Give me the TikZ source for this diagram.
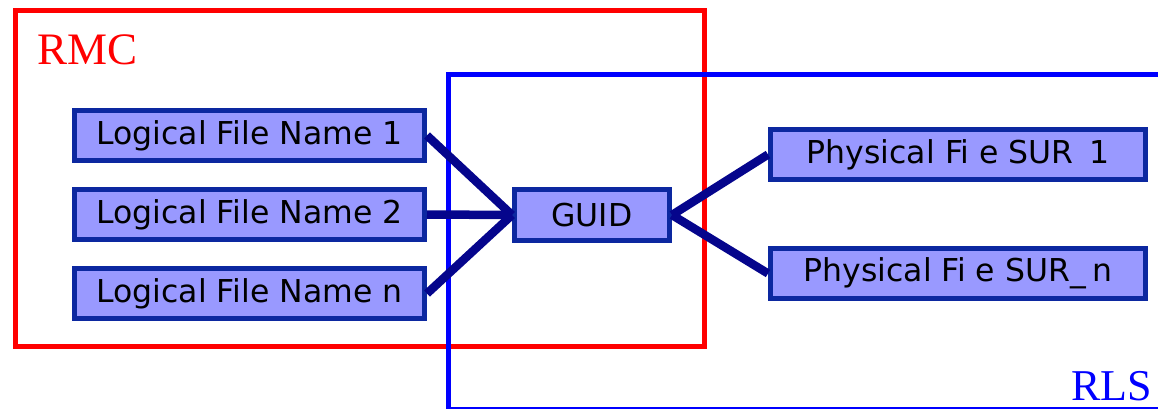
\documentclass[tikz,border=0pt]{standalone}
\usepackage{fontspec}
\setmainfont{Liberation Serif}
\newfontfamily\boxfont{DejaVu Sans}
\definecolor{boxfill}{RGB}{153,153,255}
\definecolor{boxline}{RGB}{12,40,160}
\definecolor{conn}{RGB}{5,5,140}
\begin{document}
\begin{tikzpicture}[x=1pt,y=-1pt,
  fbox/.style={draw=boxline, fill=boxfill, line width=5pt, rectangle,
    inner sep=0pt, minimum height=50pt, font=\boxfont\fontsize{31.5}{36}\selectfont, text=black},
  link/.style={draw=conn, line width=8.5pt}]
\useasboundingbox (0,0) rectangle (1158,409);
\clip (0,0) rectangle (1158,409);
% group frames
\draw[red, line width=5pt] (15.5,10.5) rectangle (704,346.5);
\draw[blue, line width=5pt] (448,74.5) rectangle (1200,409);
\node[anchor=base west, inner sep=0pt, text=red, font=\fontsize{45}{50}\selectfont] (rmc) at (37,65) {RMC};
\node[anchor=base east, inner sep=0pt, text=blue, font=\fontsize{44}{50}\selectfont] (rls) at (1152,400) {RLS};
% nodes
\node[fbox, minimum width=350pt] (l1) at (249.5,135.5) {Logical File Name 1};
\node[fbox, minimum width=350pt] (l2) at (249.5,214.5) {Logical File Name 2};
\node[fbox, minimum width=350pt] (ln) at (249.5,293.5) {Logical File Name n};
\node[fbox, minimum width=155pt, minimum height=51pt] (guid) at (592,215) {GUID};
\node[fbox, minimum width=375pt] (p1) at (958,154.5) {Physical Fi\hspace{0.3em}e SUR\hspace{0.5em}1};
\node[fbox, minimum width=375pt] (pn) at (958,273.5) {Physical Fi\hspace{0.3em}e SUR\_\hspace{0.2em}n};
% connectors
\draw[link] (l1.east) -- (guid.west);
\draw[link] (l2.east) -- (guid.west);
\draw[link] (ln.east) -- (guid.west);
\draw[link] (guid.east) -- (p1.west);
\draw[link] (guid.east) -- (pn.west);
\end{tikzpicture}
\end{document}
